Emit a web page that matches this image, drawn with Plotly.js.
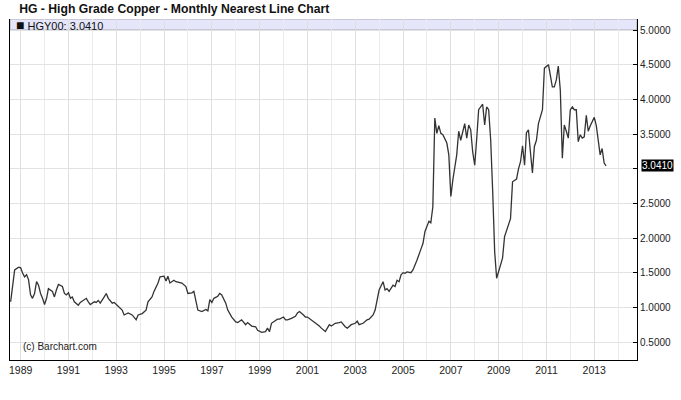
<!DOCTYPE html>
<html>
<head>
<meta charset="utf-8">
<script src="https://cdn.plot.ly/plotly-3.0.1.min.js"></script>
<style>html,body{margin:0;padding:0;background:#fff;}#chart{width:681px;height:400px;}</style>
</head>
<body>
<div id="chart"></div>
<script>
var months = [
"1988-08","1988-10","1988-12","1989-01","1989-02","1989-03","1989-04","1989-05","1989-06","1989-07",
"1989-08","1989-09","1989-10","1989-11","1989-12","1990-01","1990-02","1990-03","1990-05","1990-06",
"1990-07","1990-08","1990-10","1990-11","1990-12","1991-01","1991-02","1991-03","1991-04","1991-06",
"1991-07","1991-09","1991-10","1991-11","1991-12","1992-02","1992-03","1992-04","1992-05","1992-07",
"1992-08","1992-09","1992-11","1992-12","1993-02","1993-04","1993-05","1993-07","1993-09","1993-11",
"1993-12","1994-02","1994-04","1994-05","1994-07","1994-08","1994-10","1994-11","1995-01","1995-02",
"1995-03","1995-04","1995-06","1995-07","1995-10","1995-12","1996-01","1996-03","1996-04","1996-06",
"1996-08","1996-10","1996-11","1996-12","1997-01","1997-02","1997-04","1997-05","1997-06","1997-08",
"1997-09","1997-11","1998-01","1998-02","1998-04","1998-06","1998-07","1998-09","1998-11","1998-12",
"1999-02","1999-04","1999-05","1999-06","1999-07","1999-08","1999-10","1999-11","2000-01","2000-02",
"2000-03","2000-05","2000-07","2000-08","2000-09","2000-11","2000-12","2001-01","2001-03","2001-05",
"2001-07","2001-08","2001-10","2001-11","2001-12","2002-01","2002-03","2002-05","2002-06","2002-08",
"2002-09","2002-11","2003-01","2003-02","2003-03","2003-05","2003-07","2003-08","2003-10","2003-11",
"2003-12","2004-01","2004-03","2004-04","2004-05","2004-06","2004-08","2004-09","2004-10","2004-11",
"2004-12","2005-01","2005-02","2005-03","2005-05","2005-06","2005-08","2005-09","2005-10","2005-11",
"2005-12","2006-01","2006-02","2006-03","2006-04","2006-05","2006-06","2006-07","2006-08","2006-09",
"2006-11","2006-12","2007-01","2007-02","2007-04","2007-05","2007-06","2007-08","2007-09","2007-10",
"2007-11","2007-12","2008-01","2008-02","2008-03","2008-04","2008-05","2008-06","2008-07","2008-08",
"2008-09","2008-10","2008-11","2008-12","2009-01","2009-03","2009-04","2009-06","2009-07","2009-08",
"2009-10","2009-11","2009-12","2010-01","2010-02","2010-03","2010-04","2010-05","2010-06","2010-07",
"2010-08","2010-09","2010-10","2010-11","2010-12","2011-01","2011-02","2011-03","2011-04","2011-05",
"2011-06","2011-07","2011-08","2011-09","2011-10","2011-11","2011-12","2012-01","2012-02","2012-03",
"2012-04","2012-05","2012-06","2012-07","2012-08","2012-09","2012-10","2012-11","2013-01","2013-02",
"2013-03","2013-04","2013-05","2013-06","2013-07"
];
var prices = [
1.08,1.54,1.58,1.57,1.49,1.44,1.47,1.40,1.18,1.13,
1.20,1.37,1.32,1.20,1.13,1.04,1.13,1.27,1.23,1.15,
1.25,1.33,1.30,1.20,1.18,1.21,1.13,1.15,1.08,1.03,
1.07,1.11,1.13,1.08,1.04,1.08,1.07,1.10,1.06,1.15,
1.20,1.13,1.06,1.07,1.01,0.96,0.89,0.92,0.89,0.82,
0.89,0.91,0.96,1.08,1.15,1.23,1.35,1.44,1.45,1.38,
1.45,1.35,1.39,1.37,1.35,1.30,1.20,1.21,1.23,0.96,
0.94,0.97,0.95,1.11,1.07,1.13,1.16,1.20,1.18,1.06,
0.96,0.86,0.79,0.78,0.82,0.75,0.78,0.73,0.72,0.67,
0.64,0.65,0.70,0.65,0.77,0.79,0.83,0.83,0.86,0.82,
0.82,0.84,0.87,0.92,0.94,0.89,0.86,0.86,0.82,0.77,
0.73,0.70,0.65,0.70,0.75,0.73,0.77,0.78,0.79,0.72,
0.70,0.75,0.77,0.80,0.75,0.77,0.82,0.83,0.89,0.96,
1.11,1.25,1.37,1.25,1.27,1.23,1.32,1.30,1.39,1.37,
1.47,1.50,1.49,1.51,1.50,1.54,1.68,1.75,1.84,1.92,
2.09,2.17,2.24,2.22,2.45,3.73,3.51,3.62,3.51,3.49,
3.37,3.20,2.60,2.84,3.20,3.54,3.41,3.65,3.44,3.63,
3.56,3.24,3.05,3.44,3.85,3.89,3.93,3.63,3.89,3.85,
3.41,2.69,1.80,1.42,1.51,1.71,2.02,2.19,2.28,2.81,
2.85,3.00,3.10,3.33,3.05,3.52,3.56,3.24,2.94,3.32,
3.41,3.65,3.77,3.85,4.45,4.47,4.50,4.35,4.18,4.18,
4.28,4.48,4.13,3.15,3.63,3.54,3.44,3.85,3.89,3.85,
3.85,3.39,3.49,3.44,3.46,3.77,3.54,3.62,3.74,3.62,
3.44,3.20,3.29,3.08,3.041
];
var yTickVals = [0.5,1.0,1.5,2.0,2.5,3.0,3.5,4.0,4.5,5.0];
var yTickText = ["0.5000","1.0000","1.5000","2.0000","2.5000","","3.5000","4.0000","4.5000","5.0000"];
var lastValue = 3.041;
var lastLabel = "3.0410";
var symbolName = "HGY00";
var chartTitle = "HG - High Grade Copper - Monthly Nearest Line Chart";
var credit = "(c) Barchart.com";

var FONT = "Liberation Sans, Arial, sans-serif";

var trace = {
  x: months, y: prices, type: "scatter", mode: "lines",
  line: {color: "#333333", width: 1.3},
  hoverinfo: "skip"
};

var layout = {
  width: 681, height: 400,
  margin: {l: 10, r: 44, t: 19, b: 40},
  paper_bgcolor: "#ffffff", plot_bgcolor: "#ffffff",
  showlegend: false,
  font: {family: FONT, size: 10, color: "#222222"},
  title: {
    text: "<b>" + chartTitle + "</b>",
    x: 10/681, xanchor: "left", xref: "paper",
    y: 1 - 9/400, yanchor: "middle", yref: "container",
    font: {family: FONT, size: 12.2, color: "#111111"}
  },
  xaxis: {
    type: "date",
    range: ["1988-07-22", "2014-10-16"],
    tick0: "1989-01-01", dtick: "M24", tickformat: "%Y",
    showgrid: true, gridcolor: "#dedede", gridwidth: 1,
    minor: {dtick: "M12", showgrid: true, gridcolor: "#eaeaea", gridwidth: 1},
    showline: true, linecolor: "#000000", linewidth: 1,
    ticks: "", zeroline: false,
    tickfont: {family: FONT, size: 10.5, color: "#222222"},
    fixedrange: true
  },
  yaxis: {
    side: "right",
    range: [0.2404, 5.1587],
    tickvals: yTickVals, ticktext: yTickText,
    showgrid: true, gridcolor: "#e2e2e2", gridwidth: 1,
    showline: true, linecolor: "#000000", linewidth: 1, mirror: true,
    ticks: "inside", ticklen: 4, tickcolor: "#000000",
    zeroline: false,
    tickfont: {family: FONT, size: 10, color: "#222222"},
    fixedrange: true
  },
  shapes: [
    {type: "rect", xref: "paper", yref: "y", x0: 0, x1: 1, y0: 5.0, y1: 5.1587,
     fillcolor: "#e6e6fa", line: {color: "#a8a8b8", width: 1}, layer: "between"}
  ],
  annotations: [
    {xref: "paper", yref: "paper", x: 4/627, y: 1 - 6.5/341, xanchor: "left", yanchor: "middle",
     text: "<span style='font-size:14px'>\u25A0</span> " + symbolName + ": " + lastLabel, showarrow: false,
     font: {family: FONT, size: 11, color: "#111111"}},
    {xref: "paper", yref: "paper", x: 11/627, y: 14/341, xanchor: "left", yanchor: "middle",
     text: credit, showarrow: false,
     font: {family: FONT, size: 10, color: "#222222"}},
    {xref: "paper", yref: "y", x: 1 + 4/627, y: lastValue, xanchor: "left", yanchor: "middle",
     text: lastLabel, showarrow: false, bgcolor: "#000000", borderpad: 0,
     font: {family: FONT, size: 10, color: "#ffffff"}}
  ]
};

Plotly.newPlot("chart", [trace], layout, {staticPlot: true, displayModeBar: false});
</script>
</body>
</html>
